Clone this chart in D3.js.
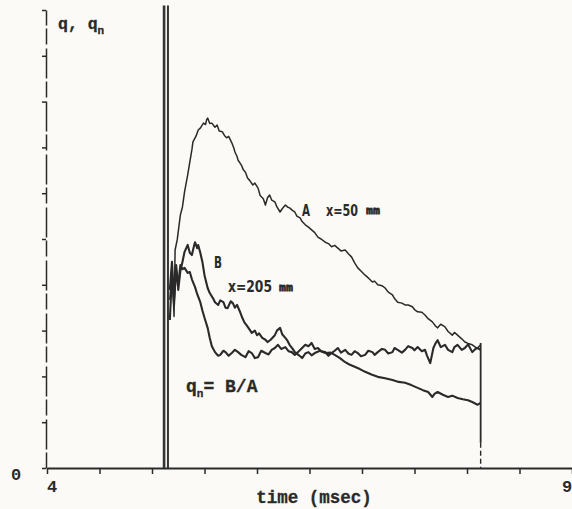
<!DOCTYPE html>
<html><head><meta charset="utf-8">
<script src="https://cdn.jsdelivr.net/npm/d3@7"></script>
<style>
html,body{margin:0;padding:0;background:#fbfaf6;}
svg{display:block;}
.mono{font-family:"Liberation Mono","DejaVu Sans Mono",monospace;font-weight:bold;fill:#2a2a2a;}
.cond{font-family:"DejaVu Sans Condensed","Liberation Sans Narrow","DejaVu Sans",sans-serif;font-stretch:condensed;font-weight:bold;fill:#2a2a2a;}
</style></head>
<body>
<script>
// time axis (msec) and q axis
const xTicks = [4,4.5,5,5.5,6,6.5,7,7.5,8,8.5,9];
const yTicks = [0,1,2,3,4,5,6,7,8,9,10];
const xTickLabels = ["4","9"];
const yTickLabels = ["0"];

// trigger spike and cut-off marker (msec)
const spikeTimes = [5.115, 5.152];
const spikeTop = 10.1;
const cutTime = 8.13;
const cutSolid = [2.73, 0.55];

// curve A  (x = 50 mm)
const curveA = [
 [5.17,3.67],[5.19,4.45],[5.21,3.31],[5.22,4.76],[5.24,4.98],[5.27,5.52],[5.29,5.70],[5.31,6.03],[5.34,6.40],[5.36,6.68],[5.38,6.95],
 [5.39,7.12],[5.42,7.25],[5.44,7.38],[5.46,7.42],[5.49,7.53],[5.51,7.50],[5.52,7.60],[5.53,7.64],[5.55,7.52],[5.57,7.53],[5.60,7.44],
 [5.62,7.49],[5.64,7.36],[5.67,7.34],[5.69,7.26],[5.71,7.21],[5.73,7.24],[5.76,7.10],[5.78,6.98],[5.79,6.90],[5.81,6.80],[5.82,6.72],
 [5.85,6.62],[5.87,6.51],[5.89,6.46],[5.91,6.33],[5.93,6.28],[5.96,6.18],[5.98,6.22],[6.01,6.11],[6.03,5.95],[6.06,5.88],[6.08,5.74],
 [6.10,5.90],[6.12,5.96],[6.14,5.85],[6.17,5.81],[6.19,5.70],[6.22,5.59],[6.24,5.66],[6.27,5.74],[6.29,5.70],[6.31,5.68],[6.34,5.62],
 [6.36,5.59],[6.38,5.50],[6.41,5.46],[6.43,5.38],[6.46,5.31],[6.49,5.26],[6.52,5.20],[6.55,5.14],[6.58,5.04],[6.61,5.00],[6.65,4.93],
 [6.68,4.90],[6.71,4.83],[6.74,4.86],[6.77,4.80],[6.80,4.74],[6.84,4.76],[6.87,4.68],[6.90,4.61],[6.93,4.48],[6.96,4.37],[6.99,4.30],
 [7.03,4.21],[7.06,4.15],[7.10,4.06],[7.12,4.08],[7.15,4.00],[7.19,3.98],[7.22,3.93],[7.25,3.84],[7.29,3.78],[7.31,3.70],[7.34,3.62],
 [7.38,3.60],[7.41,3.56],[7.44,3.56],[7.48,3.52],[7.50,3.46],[7.53,3.41],[7.57,3.40],[7.60,3.34],[7.63,3.26],[7.67,3.19],[7.70,3.10],
 [7.72,3.06],[7.75,3.14],[7.79,3.08],[7.82,2.98],[7.86,2.90],[7.88,2.96],[7.91,2.90],[7.95,2.82],[7.98,2.75],[8.01,2.72],[8.05,2.69],
 [8.08,2.64],[8.10,2.62],[8.13,2.69]
];

// curve B  (x = 205 mm)
const curveB = [
 [5.17,3.23],[5.19,4.21],[5.21,3.56],[5.23,4.43],[5.25,3.89],[5.27,4.30],[5.29,4.50],[5.31,4.72],[5.34,4.87],[5.36,4.70],[5.38,4.65],
 [5.40,4.85],[5.41,4.93],[5.43,4.80],[5.44,4.87],[5.46,4.70],[5.48,4.50],[5.50,4.21],[5.53,3.93],[5.55,3.82],[5.58,3.71],[5.60,3.62],
 [5.63,3.56],[5.65,3.66],[5.68,3.62],[5.70,3.50],[5.72,3.49],[5.75,3.64],[5.77,3.60],[5.79,3.50],[5.81,3.56],[5.84,3.40],[5.86,3.28],
 [5.88,3.18],[5.90,3.12],[5.93,3.02],[5.95,2.95],[5.98,3.00],[6.00,2.90],[6.02,2.94],[6.05,2.84],[6.08,2.80],[6.10,2.75],[6.13,2.80],
 [6.17,2.90],[6.19,3.00],[6.22,3.06],[6.24,2.92],[6.27,2.84],[6.29,2.78],[6.31,2.69],[6.34,2.60],[6.36,2.53],[6.40,2.46],[6.43,2.40],
 [6.46,2.50],[6.49,2.53],[6.52,2.46],[6.55,2.51],[6.60,2.56],[6.65,2.51],[6.70,2.52],[6.74,2.47],[6.79,2.40],[6.84,2.31],[6.88,2.26],
 [6.93,2.21],[6.98,2.16],[7.03,2.10],[7.09,2.04],[7.15,1.99],[7.22,1.96],[7.29,1.92],[7.35,1.88],[7.41,1.86],[7.47,1.81],[7.53,1.75],
 [7.58,1.70],[7.63,1.66],[7.67,1.55],[7.69,1.62],[7.72,1.66],[7.77,1.60],[7.82,1.55],[7.86,1.58],[7.91,1.53],[7.96,1.50],[8.01,1.48],
 [8.05,1.44],[8.10,1.38],[8.13,1.42]
];

// normalised curve qn = B/A
const curveQn = [
 [5.17,3.89],[5.19,4.50],[5.21,3.71],[5.23,4.32],[5.25,4.00],[5.27,4.43],[5.29,4.34],[5.31,4.37],[5.34,4.26],[5.36,4.28],[5.38,4.12],
 [5.41,3.95],[5.43,3.80],[5.46,3.62],[5.48,3.44],[5.50,3.28],[5.53,3.06],[5.55,2.84],[5.57,2.66],[5.60,2.53],[5.63,2.45],[5.65,2.47],
 [5.68,2.56],[5.70,2.53],[5.73,2.45],[5.76,2.51],[5.79,2.58],[5.82,2.53],[5.85,2.47],[5.89,2.42],[5.92,2.55],[5.95,2.51],[5.98,2.40],
 [6.01,2.42],[6.04,2.56],[6.08,2.51],[6.11,2.48],[6.14,2.58],[6.17,2.62],[6.20,2.69],[6.23,2.60],[6.27,2.64],[6.30,2.55],[6.33,2.53],
 [6.36,2.47],[6.39,2.53],[6.42,2.60],[6.46,2.69],[6.49,2.66],[6.52,2.73],[6.55,2.60],[6.58,2.62],[6.61,2.55],[6.65,2.53],[6.68,2.45],
 [6.71,2.51],[6.74,2.56],[6.77,2.62],[6.80,2.52],[6.84,2.58],[6.87,2.50],[6.90,2.47],[6.93,2.55],[6.96,2.51],[6.99,2.44],[7.03,2.47],
 [7.06,2.56],[7.10,2.53],[7.12,2.47],[7.15,2.53],[7.19,2.60],[7.22,2.58],[7.25,2.50],[7.29,2.53],[7.31,2.62],[7.34,2.58],[7.38,2.52],
 [7.41,2.58],[7.44,2.66],[7.48,2.62],[7.50,2.57],[7.53,2.64],[7.57,2.55],[7.60,2.58],[7.62,2.45],[7.65,2.29],[7.68,2.62],[7.70,2.72],
 [7.72,2.79],[7.75,2.64],[7.79,2.69],[7.82,2.58],[7.86,2.53],[7.88,2.64],[7.91,2.69],[7.95,2.58],[7.98,2.62],[8.01,2.70],[8.05,2.53],
 [8.08,2.60],[8.10,2.62],[8.13,2.58]
];

const W = 572, H = 509;
const ink = "#2a2a2a";
const svg = d3.select("body").append("svg").attr("width", W).attr("height", H);

const x = d3.scaleLinear().domain([4, 9]).range([47, 572]);
const y = d3.scaleLinear().domain([0, 10]).range([468, 10]);

// x axis
const gx = svg.append("g").attr("transform", `translate(0,${y(0)})`)
  .call(d3.axisBottom(x).tickValues(xTicks).tickSize(6).tickSizeOuter(0).tickFormat(""));
gx.select(".domain").attr("stroke", ink).attr("stroke-width", 2);
gx.selectAll(".tick line").attr("stroke", ink).attr("stroke-width", 1.5);

// y axis (broken line as in the scan)
const gy = svg.append("g").attr("transform", `translate(${x(4) - 1},0)`)
  .call(d3.axisLeft(y).tickValues(yTicks).tickSize(4).tickSizeOuter(0).tickFormat(""));
gy.select(".domain").attr("stroke", ink).attr("stroke-width", 1.5).attr("stroke-dasharray", "16,3,30,4");
gy.selectAll(".tick line").attr("stroke", ink).attr("stroke-width", 1.5);

// tick labels
svg.append("text").attr("class", "mono").attr("x", x(4) + 5).attr("y", 492)
  .attr("text-anchor", "middle").attr("font-size", 17).text(xTickLabels[0]);
svg.append("text").attr("class", "mono").attr("x", x(9) - 10).attr("y", 492)
  .attr("font-size", 17).text(xTickLabels[1]);
svg.append("text").attr("class", "mono").attr("x", 16).attr("y", 480)
  .attr("text-anchor", "middle").attr("font-size", 17).text(yTickLabels[0]);

// axis titles
svg.append("text").attr("class", "mono").attr("x", 314).attr("y", 503)
  .attr("text-anchor", "middle").attr("font-size", 17.5).attr("stroke", ink).attr("stroke-width", 0.3).text("time (msec)");
const yt = svg.append("text").attr("class", "mono").attr("x", 58).attr("y", 29).attr("font-size", 16.5)
  .attr("stroke", ink).attr("stroke-width", 0.3);
yt.append("tspan").text("q, q");
yt.append("tspan").attr("font-size", 11).attr("dy", 5).text("n");

// spike
spikeTimes.forEach((t, i) => {
  svg.append("line").attr("x1", x(t)).attr("x2", x(t)).attr("y1", y(spikeTop)).attr("y2", y(0))
    .attr("stroke", "#333").attr("stroke-width", i === 0 ? 2.6 : 2.0);
});

// curves
const line = d3.line().x(d => x(d[0])).y(d => y(d[1]));
svg.append("path").datum(curveA).attr("d", line).attr("fill", "none").attr("stroke", ink).attr("stroke-width", 1.5).attr("stroke-linejoin", "round");
svg.append("path").datum(curveB).attr("d", line).attr("fill", "none").attr("stroke", ink).attr("stroke-width", 2.1).attr("stroke-linejoin", "round");
svg.append("path").datum(curveQn).attr("d", line).attr("fill", "none").attr("stroke", ink).attr("stroke-width", 2.1).attr("stroke-linejoin", "round");

// cut-off marker
svg.append("line").attr("x1", x(cutTime)).attr("x2", x(cutTime)).attr("y1", y(cutSolid[0])).attr("y2", y(cutSolid[1]))
  .attr("stroke", ink).attr("stroke-width", 1.8);
svg.append("line").attr("x1", x(cutTime)).attr("x2", x(cutTime)).attr("y1", y(cutSolid[1])).attr("y2", y(0))
  .attr("stroke", ink).attr("stroke-width", 1.4).attr("stroke-dasharray", "5,3");

// curve labels
function condText(px, py, w, s) {
  svg.append("text").attr("class", "cond").attr("x", px).attr("y", py).attr("font-size", 15)
    .attr("textLength", w).attr("lengthAdjust", "spacingAndGlyphs").text(s);
}
function mmBlock(px, py) {
  svg.append("text").attr("class", "cond").attr("x", px).attr("y", py).attr("font-size", 10)
    .attr("stroke", ink).attr("stroke-width", 1).attr("textLength", 14).attr("lengthAdjust", "spacingAndGlyphs").text("mm");
}
condText(302, 216, 8, "A");
condText(326, 216, 32, "x=50");
mmBlock(366, 214);
condText(214, 268, 8, "B");
condText(228, 292, 44, "x=205");
mmBlock(279, 291);
const ql = svg.append("text").attr("class", "mono").attr("x", 186).attr("y", 392).attr("font-size", 18)
  .attr("stroke", ink).attr("stroke-width", 0.3);
ql.append("tspan").text("q");
ql.append("tspan").attr("font-size", 11).attr("dy", 5).text("n");
ql.append("tspan").attr("dy", -5).text("= B/A");
</script>
</body></html>
